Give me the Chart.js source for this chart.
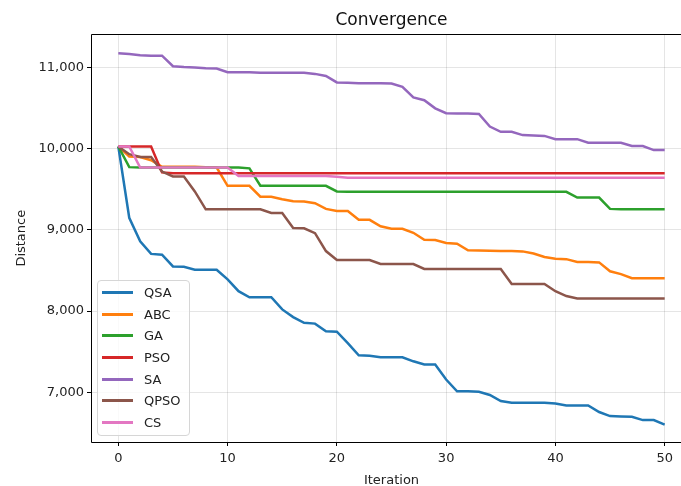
<!DOCTYPE html>
<html>
<head>
<meta charset="utf-8">
<script src="https://cdn.jsdelivr.net/npm/chart.js@4"></script>
<style>
  html, body { margin: 0; padding: 0; background: #fff; overflow: hidden; }
  #wrap { position: relative; width: 681px; height: 486px; overflow: hidden; }
  #legend {
    position: absolute; left: 97px; top: 280px; width: 91px;
    padding: 1px 0 2px 0;
    background: rgba(255,255,255,0.8); border: 1px solid #d6d6d6; border-radius: 4px;
    font-family: "DejaVu Sans", sans-serif; font-size: 13px; color: #222;
  }
  .row { height: 21.6px; display: flex; align-items: center; }
  .swatch { width: 31px; height: 3px; margin-left: 4px; margin-right: 11px; }
</style>
</head>
<body>
<div id="wrap">
  <canvas id="myChart" width="700" height="486"></canvas>
  <div id="legend"></div>
</div>
<script>
  const iterations = [0, 1, 2, 3, 4, 5, 6, 7, 8, 9, 10, 11, 12, 13, 14, 15, 16, 17, 18, 19, 20,
    21, 22, 23, 24, 25, 26, 27, 28, 29, 30, 31, 32, 33, 34, 35, 36, 37, 38, 39, 40,
    41, 42, 43, 44, 45, 46, 47, 48, 49, 50];

  const names = ["QSA", "ABC", "GA", "PSO", "SA", "QPSO", "CS"];
  const colors = ["#1f77b4", "#ff7f0e", "#2ca02c", "#d62728", "#9467bd", "#8c564b", "#e377c2"];

  const qsa = [10030, 9150, 8860, 8705, 8695, 8550, 8545, 8510, 8510, 8510, 8390, 8245, 8170, 8170, 8170,
    8020, 7925, 7855, 7845, 7750, 7745, 7605, 7455, 7450, 7430, 7430, 7430, 7380, 7340, 7340, 7155,
    7010, 7010, 7005, 6965, 6890, 6870, 6870, 6870, 6870, 6860, 6835, 6835, 6835, 6755, 6705, 6700,
    6695, 6655, 6655, 6600];
  const abc = [10030, 9905, 9900, 9860, 9780, 9780, 9780, 9780, 9775, 9770, 9545, 9545, 9545, 9410, 9410,
    9380, 9355, 9350, 9330, 9260, 9235, 9235, 9125, 9125, 9045, 9015, 9015, 8965, 8880, 8875, 8840,
    8830, 8750, 8748, 8745, 8742, 8740, 8736, 8710, 8666, 8645, 8640, 8605, 8605, 8600, 8490, 8455,
    8405, 8405, 8405, 8405];
  const ga = [10030, 9775, 9770, 9770, 9770, 9770, 9770, 9770, 9770, 9770, 9770, 9770, 9760, 9545, 9545,
    9545, 9545, 9545, 9545, 9545, 9475, 9470, 9470, 9470, 9470, 9470, 9470, 9470, 9470, 9470, 9470,
    9470, 9470, 9470, 9470, 9470, 9470, 9470, 9470, 9470, 9470, 9470, 9400, 9400, 9400, 9260, 9255,
    9255, 9255, 9255, 9255];
  const pso = [10030, 10030, 10030, 10030, 9710, 9700, 9700, 9700, 9700, 9700, 9700, 9700, 9700, 9700, 9700,
    9700, 9700, 9700, 9700, 9700, 9700, 9700, 9700, 9700, 9700, 9700, 9700, 9700, 9700, 9700, 9700,
    9700, 9700, 9700, 9700, 9700, 9700, 9700, 9700, 9700, 9700, 9700, 9700, 9700, 9700, 9700, 9700,
    9700, 9700, 9700, 9700];
  const sa = [11180, 11170, 11155, 11150, 11150, 11020, 11010, 11005, 10995, 10990, 10945, 10945, 10945,
    10940, 10940, 10940, 10940, 10940, 10925, 10900, 10820, 10815, 10810, 10810, 10810, 10805, 10765,
    10635, 10600, 10500, 10440, 10435, 10435, 10430, 10275, 10210, 10210, 10170, 10165, 10160, 10120,
    10120, 10120, 10075, 10075, 10075, 10075, 10035, 10035, 9985, 9985];
  const qpso = [10030, 9935, 9900, 9900, 9720, 9660, 9660, 9475, 9255, 9255, 9255, 9255, 9255, 9255, 9210,
    9210, 9025, 9020, 8960, 8740, 8630, 8630, 8630, 8630, 8580, 8580, 8580, 8580, 8520, 8520, 8520,
    8520, 8520, 8520, 8520, 8520, 8335, 8335, 8335, 8335, 8245, 8185, 8155, 8155, 8155, 8155, 8155,
    8155, 8155, 8155, 8155];
  const cs = [10030, 10030, 9770, 9770, 9770, 9770, 9770, 9770, 9770, 9770, 9770, 9665, 9665, 9665, 9665,
    9665, 9665, 9665, 9665, 9665, 9655, 9645, 9645, 9645, 9645, 9645, 9645, 9645, 9645, 9645, 9645,
    9645, 9645, 9645, 9645, 9645, 9645, 9645, 9645, 9645, 9645, 9645, 9645, 9645, 9645, 9645, 9645,
    9645, 9645, 9645, 9645];

  const xTicks = [0, 10, 20, 30, 40, 50];
  const yTicks = [7000, 8000, 9000, 10000, 11000];

  const series = [qsa, abc, ga, pso, sa, qpso, cs];
  const font = "'DejaVu Sans', sans-serif";

  // matplotlib style spines (the right one falls outside the window)
  const spines = {
    id: "spines",
    afterDraw(chart) {
      const a = chart.chartArea;
      const c = chart.ctx;
      const l = Math.round(a.left) + 0.5, t = Math.round(a.top) + 0.5;
      const r = Math.round(a.right) + 0.5, b = Math.round(a.bottom) + 0.5;
      c.save();
      c.strokeStyle = "#000";
      c.lineWidth = 1;
      c.beginPath();
      c.moveTo(r, t);
      c.lineTo(l, t);
      c.lineTo(l, b);
      c.lineTo(r, b);
      c.stroke();
      c.restore();
    },
  };

  new Chart(document.getElementById("myChart"), {
    type: "line",
    data: {
      datasets: series.map((s, i) => ({
        label: names[i],
        data: s.map((v, j) => ({ x: iterations[j], y: v })),
        borderColor: colors[i],
        backgroundColor: colors[i],
        borderWidth: 2.5,
        pointRadius: 0,
        tension: 0,
        order: series.length - i,
      })),
    },
    options: {
      responsive: false,
      animation: false,
      devicePixelRatio: 1,
      locale: "en-US",
      layout: { padding: { right: 8 } },
      plugins: {
        legend: { display: false },
        tooltip: { enabled: false },
        title: {
          display: true,
          fullSize: false,
          text: "Convergence",
          color: "#111",
          font: { family: font, size: 17, weight: "normal" },
          padding: { top: 10, bottom: 4 },
        },
      },
      scales: {
        x: {
          type: "linear",
          min: -2.5,
          max: 52.5,
          afterBuildTicks: (s) => { s.ticks = xTicks.map((v) => ({ value: v })); },
          afterFit: (s) => { s.height = 44; },
          grid: { color: "rgba(0,0,0,0.1)", tickColor: "#000", tickLength: 4 },
          border: { display: false },
          ticks: { color: "#222", font: { family: font, size: 13 }, padding: 5, maxRotation: 0 },
          title: {
            display: true, text: "Iteration", color: "#222",
            font: { family: font, size: 13 }, padding: { top: 0, bottom: -2 },
          },
        },
        y: {
          min: 6385,
          max: 11412,
          afterBuildTicks: (s) => { s.ticks = yTicks.map((v) => ({ value: v })); },
          afterFit: (s) => { s.width = 91; },
          grid: { color: "rgba(0,0,0,0.1)", tickColor: "#000", tickLength: 4 },
          border: { display: false },
          ticks: { color: "#222", font: { family: font, size: 13 }, padding: 3 },
          title: {
            display: true, text: "Distance", color: "#222",
            font: { family: font, size: 13 }, padding: { top: 14, bottom: 0 },
          },
        },
      },
    },
    plugins: [spines],
  });

  const legend = document.getElementById("legend");
  names.forEach((n, i) => {
    const row = document.createElement("div");
    row.className = "row";
    row.innerHTML = '<span class="swatch" style="background:' + colors[i] + '"></span><span>' + n + "</span>";
    legend.appendChild(row);
  });
</script>
</body>
</html>
